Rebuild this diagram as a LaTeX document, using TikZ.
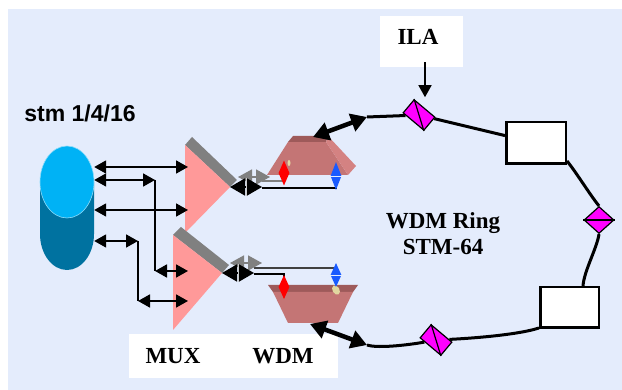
\documentclass[tikz,border=0pt]{standalone}
\usepackage{fontspec}
\setmainfont{Liberation Serif}
\newfontfamily\arialfont{Liberation Sans}
\usetikzlibrary{arrows.meta,positioning,shapes.geometric,calc}
\definecolor{bgblue}{RGB}{228,236,252}
\definecolor{drumtop}{RGB}{0,178,245}
\definecolor{drumbody}{RGB}{0,114,160}
\definecolor{muxpink}{RGB}{255,153,153}
\definecolor{muxgray}{RGB}{128,128,128}
\definecolor{prismfront}{RGB}{196,117,117}
\definecolor{prismtop}{RGB}{158,90,90}
\definecolor{prismside}{RGB}{212,130,130}
\definecolor{ampmag}{RGB}{255,0,255}
\definecolor{lambdared}{RGB}{255,0,0}
\definecolor{lambdablue}{RGB}{25,90,255}
\definecolor{filtertan}{RGB}{225,215,160}
\pgfdeclarelayer{wires}
\pgfsetlayers{wires,main}

\begin{document}
\begin{tikzpicture}[x=1pt, y=-1pt,
  lbl/.style={font=\fontsize{23pt}{26pt}\selectfont\bfseries, inner sep=0pt},
  link/.style={{Triangle[length=12pt,width=13pt]}-{Triangle[length=12pt,width=13pt]}, line width=1.8pt},
  tap/.style={{Triangle[length=15pt,width=17pt]}-{Triangle[length=15pt,width=17pt]}, line width=1.5pt},
  trunk/.style={{Triangle[length=16pt,width=18pt]}-{Triangle[length=16pt,width=18pt]}, line width=4.5pt},
  ring/.style={line width=3pt},
  amp/.style={draw, line width=1.2pt, fill=ampmag, inner sep=0pt},
  tilt/.style={amp, minimum width=27pt, minimum height=17pt, rotate=-40},
  site/.style={draw, line width=2.5pt, fill=white, inner sep=0pt, minimum width=59.5pt, minimum height=41.5pt},
  lam/.style={diamond, inner sep=0pt, minimum width=11pt}]
\begin{pgfonlayer}{wires}
  \fill[bgblue] (8,9) rectangle (622,390);
\end{pgfonlayer}
\useasboundingbox (0,0) rectangle (622,390);

\node[fill=white, minimum width=83pt, minimum height=51pt, inner sep=0pt] (ilabox) at (421.5,41.5) {};
\node[lbl] (ilatxt) at (418,37) {ILA};
\draw[-{Triangle[length=12pt,width=13pt]}, line width=1.5pt] ([xshift=3.5pt, yshift=5pt]ilabox.south) -- ++(0,35);
\node[fill=white, minimum width=209pt, minimum height=44pt, inner sep=0pt] (tagbox) at (233.5,356) {};
\node[lbl] (muxtxt) at (173,356) {MUX};
\node[lbl] (wdmtxt) at (283,356) {WDM};
\node[lbl, align=center] (ringtxt) at (443,234) {WDM Ring\\STM-64};

% SDH source
\fill[drumbody] (40,182) rectangle (94,234) (67,234) ellipse [x radius=27pt, y radius=36pt];
\fill[drumtop] (67,182) ellipse [x radius=27pt, y radius=36pt];
\draw[white!55!drumtop, line width=0.6pt] (67,182) ellipse [x radius=27pt, y radius=36pt];
\node[inner sep=0pt, minimum width=54pt, minimum height=124pt] (stm) at (67,208) {};
\node[font=\arialfont\fontsize{23pt}{26pt}\selectfont\bfseries, inner sep=0pt] (stmtxt) at (80,113) {stm 1/4/16};

% multiplexers
\fill[muxgray] (185,145) -- (192,137) -- (237,180) -- (230,187) -- cycle;
\fill[muxpink] (185,145) -- (230,187) coordinate (xa) -- (185,233) -- cycle;
\fill[muxgray] (173,235) -- (181,227) -- (229,265) -- (222,273) -- cycle;
\fill[muxpink] (173,235) -- (222,273) coordinate (xb) -- (173,330) -- cycle;

\foreach \p/\y in {a/167, b/180, c/210, d/241}
  \coordinate (s\p) at (stm.east |- 0,\y);
\coordinate (mx) at (188,0);
\coordinate (kb) at (155,271);
\coordinate (kd) at (138,301);
\draw[link] (sa) -- (sa -| mx);
\draw[link] (sc) -- (sc -| mx);
\draw[link] (sb) -- (sb -| kb);
\draw[line width=1.8pt] (sb -| kb) -- (kb);
\draw[link] (kb) -- (kb -| mx);
\draw[link] (sd) -- (sd -| kd);
\draw[line width=1.8pt] (sd -| kd) -- (kd);
\draw[link] (kd) -- (kd -| mx);

\foreach \x in {xa, xb} {
  \draw[tap, muxgray, {Triangle[length=14pt,width=15pt]}-{Triangle[length=14pt,width=15pt]}] ([shift={(8,-10)}]\x) -- ++(32,0);
  \draw[tap] (\x) -- ++(32,0);
  \draw[white!80!black, line width=0.7pt] ([shift={(16,-9)}]\x) -- ++(0,18);
}

% WDM terminals
\fill[prismfront] (267,175) -- (288,142) -- (326,142) -- (348,175) -- cycle;
\fill[prismtop] (288,142) -- (293,136) -- (328,136) -- (326,142) -- cycle;
\fill[prismside] (326,142) -- (328,136) -- (356,166) -- (348,175) -- cycle;
\fill[prismtop] (268,285) -- (358,285) -- (353,292) -- (273,292) -- cycle;
\fill[prismfront] (273,292) -- (353,292) -- (338,323) -- (288,323) -- cycle;
\fill[filtertan] (289,163) ellipse [x radius=1.5pt, y radius=3pt];
\fill[filtertan, rotate around={30:(336,290)}] (336,290) ellipse [x radius=3.5pt, y radius=5pt];

\node[lam, fill=lambdared, minimum height=25pt] (redA) at (284,173) {};
\node[lam, fill=lambdablue, minimum height=28pt] (blueA) at (336,176) {};
\node[lam, fill=lambdared, minimum height=24pt] (redB) at (284,287) {};
\node[lam, fill=lambdablue, minimum height=24pt] (blueB) at (336,275) {};
\draw[bgblue, line width=0.8pt] (blueA.west) -- (blueA.east);
\draw[bgblue, line width=0.8pt] (blueB.west) -- (blueB.east);

\begin{pgfonlayer}{wires}
  \draw[muxgray, line width=1.3pt] ([shift={(32,-6)}]xa) -| (redA.center);
  \draw[line width=1.3pt] ([shift={(32,1)}]xa) -| (blueA.center);
  \draw[black!75, line width=1.3pt] ([shift={(32,-5)}]xb) -| (blueB.center);
  \draw[line width=1.3pt] ([shift={(32,1)}]xb) -| (redB.center);
\end{pgfonlayer}

\coordinate (wa) at (313,137);
\coordinate (ra) at (367,117);
\coordinate (wb) at (310,324);
\coordinate (rb) at (367,345);
\draw[trunk] (wa) -- (ra);
\draw[trunk] (wb) -- (rb);

% ring
\node[tilt] (ila) at (419,115) {};
\draw[line width=1.2pt] (ila.north west) -- (ila.south east);
\node[site] (box1) at (536,143) {};
\node[amp, diamond, minimum width=30pt, minimum height=27pt] (rd) at (599,220) {};
\draw[line width=1.2pt] (rd.west) -- (rd.east);
\node[site, minimum width=58.5pt, minimum height=40.5pt] (box2) at (569.5,307.5) {};
\node[tilt] (ld) at (436,340) {};
\draw[line width=1.2pt] (ld.north west) -- (ld.south east);

\begin{pgfonlayer}{wires}
  \draw[ring] (ra) -- (ila);
  \draw[ring] (ila) -- (box1);
  \draw[ring] ([yshift=4pt]box1.south east) .. controls +(9,11) and +(-9,-11) .. (rd.north);
  \draw[ring] (rd.south) .. controls +(-2,14) and +(1,-15) .. ([xshift=13.5pt]box2.north);
  \draw[ring] ([yshift=1pt]box2.south west) .. controls +(-25,8) and +(22,-1) .. (ld);
  \draw[ring] (rb) .. controls +(12,4) and +(-22,4) .. (ld);
\end{pgfonlayer}
\end{tikzpicture}
\end{document}
